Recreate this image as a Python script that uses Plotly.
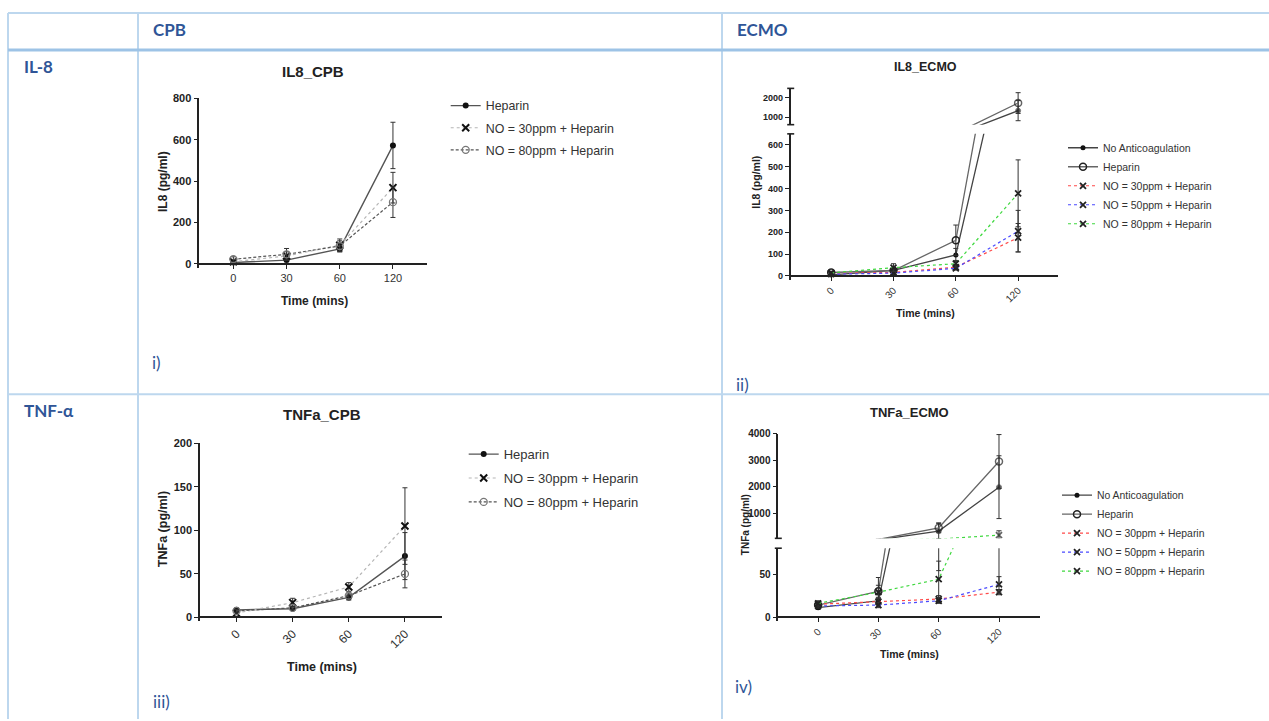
import plotly.graph_objects as go

W, H = 1269, 721

# ---------------- data ----------------
time_labels = ['0', '30', '60', '120']

# IL8 - CPB (pg/ml)
il8_cpb_heparin = [6, 18, 72, 572]
il8_cpb_heparin_err = [4, 8, 15, 112]
il8_cpb_no30 = [10, 38, 90, 368]
il8_cpb_no30_err = [8, 20, 30, 74]
il8_cpb_no80 = [22, 46, 86, 298]
il8_cpb_no80_err = [12, 28, 25, 74]

# IL8 - ECMO (pg/ml)
il8_ecmo_noac = [5, 26, 96, 1330]
il8_ecmo_noac_err = [3, 8, 30, 517]
il8_ecmo_heparin = [16, 25, 163, 1720]
il8_ecmo_heparin_err = [6, 15, 70, 534]
il8_ecmo_no30 = [12, 16, 40, 175]
il8_ecmo_no30_err = [4, 6, 10, 65]
il8_ecmo_no50 = [8, 13, 35, 205]
il8_ecmo_no50_err = [3, 5, 8, 95]
il8_ecmo_no80 = [14, 38, 56, 378]
il8_ecmo_no80_err = [5, 18, 15, 153]

# TNFa - CPB (pg/ml)
tnf_cpb_heparin = [8.7, 10, 23, 70.5]
tnf_cpb_heparin_err = [1.5, 2, 3, 27]
tnf_cpb_no30 = [5, 17, 35, 105]
tnf_cpb_no30_err = [2, 5, 5, 44]
tnf_cpb_no80 = [7.5, 11, 25, 50]
tnf_cpb_no80_err = [1.5, 2, 3, 16]

# TNFa - ECMO (pg/ml)
tnf_ecmo_noac = [11, 19, 344, 1990]
tnf_ecmo_noac_err = [2, 4, 290, 1176]
tnf_ecmo_heparin = [14, 30, 468, 2950]
tnf_ecmo_heparin_err = [3, 16, 185, 1010]
tnf_ecmo_no30 = [15, 18, 21, 29]
tnf_ecmo_no30_err = [3, 4, 4, 3]
tnf_ecmo_no50 = [13, 14, 19, 38]
tnf_ecmo_no50_err = [2, 3, 3, 9]
tnf_ecmo_no80 = [16, 29, 44, 196]
tnf_ecmo_no80_err = [3, 8, 21, 160]

# ---------------- helpers ----------------
def px(x):
    return x / W


def py(y):
    return 1 - y / H


FONT = 'Liberation Sans'
TXT = '#222222'
BLUE = '#2f5597'

axis_common = dict(showgrid=False, zeroline=False, showline=True, linecolor='#222222',
                   linewidth=1.6, ticks='outside', ticklen=4, tickwidth=1.4,
                   tickcolor='#222222')

yranges = {}


def lower_yaxis(name, top_px, zero_px, top_val, xname, tickvals, fsize, eps_px=4):
    upp = top_val / (zero_px - top_px)
    rng = [-eps_px * upp, top_val]
    yranges[name] = rng
    d = dict(axis_common)
    d.update(domain=[py(zero_px + eps_px), py(top_px)], range=rng,
             anchor=xname, tickvals=tickvals,
             tickfont=dict(family=FONT, size=fsize, color=TXT, weight='bold'))
    return d


def upper_yaxis(name, top_px, bottom_px, lo, hi, xname, tickvals, fsize):
    yranges[name] = [lo, hi]
    d = dict(axis_common)
    d.update(domain=[py(bottom_px), py(top_px)], range=[lo, hi], anchor=xname,
             tickvals=tickvals,
             tickfont=dict(family=FONT, size=fsize, color=TXT, weight='bold'))
    return d


def x_axis(l_px, r_px, rng, zero_px, fsize, angle):
    d = dict(axis_common)
    d.update(type='category', categoryorder='array', categoryarray=time_labels,
             domain=[px(l_px), px(r_px)], range=rng, anchor='free', position=py(zero_px),
             tickangle=angle, tickfont=dict(family=FONT, size=fsize, color='#333333'))
    return d


layout_axes = dict(
    xaxis=x_axis(199.3, 427, [-0.64, 3.64], 260.7, 11, 0),
    yaxis=lower_yaxis('y', 93.3, 260.7, 800, 'x', [0, 200, 400, 600, 800], 11),
    xaxis2=x_axis(790.7, 1058, [-0.65, 3.64], 273, 10, -45),
    yaxis2=lower_yaxis('y2', 129.3, 273, 650, 'x2', [0, 100, 200, 300, 400, 500, 600], 9),
    yaxis3=upper_yaxis('y3', 83.3, 120, 610, 2475, 'x2', [1000, 2000], 9),
    xaxis3=x_axis(200, 442, [-0.65, 3.66], 618.3, 12, -45),
    yaxis4=lower_yaxis('y4', 442.3, 618.3, 200, 'x3', [0, 50, 100, 150, 200], 11),
    xaxis4=x_axis(778.3, 1040, [-0.66, 3.68], 618, 10, -45),
    yaxis5=lower_yaxis('y5', 548.3, 618, 80, 'x4', [0, 50], 10),
    yaxis6=upper_yaxis('y6', 432.3, 538.3, 74, 4000, 'x4', [1000, 2000, 3000, 4000], 10),
)

fig = go.Figure()


def add_series(xname, ynames, name, y, err, line, marker, legend, group):
    for i, yn in enumerate(ynames):
        mk = dict(marker)
        if i > 0:
            # upper segment of a broken axis: hide markers that sit below its range
            lo = yranges[yn][0]
            mk['size'] = [marker['size'] if v >= lo else 0 for v in y]
        fig.add_trace(go.Scatter(
            x=time_labels, y=y, name=name, mode='lines+markers',
            xaxis=xname, yaxis=yn, line=line, marker=mk,
            error_y=dict(type='data', array=err, visible=True, color='#333333',
                         thickness=1, width=2.5),
            showlegend=(i == 0), legend=legend, legendgroup=group,
        ))


# CPB styles
cpb_hep_line = dict(color='#555555', width=1.4)
cpb_hep_marker = dict(symbol='circle', size=6, color='#111111')
cpb_no30_line = dict(color='#b5b5b5', width=1.2, dash='dot')
cpb_no30_marker = dict(symbol='x-thin', size=7, color='#111111', line=dict(width=2, color='#111111'))
cpb_no80_line = dict(color='#555555', width=1.2, dash='3px,2px')
cpb_no80_marker = dict(symbol='circle-open', size=7, color='#777777', line=dict(width=1.3, color='#777777'))

# ECMO styles
e_noac_line = dict(color='#444444', width=1.3)
e_noac_marker = dict(symbol='circle', size=5, color='#111111')
e_hep_line = dict(color='#666666', width=1.3)
e_hep_marker = dict(symbol='circle-open', size=7, color='#222222', line=dict(width=1.5, color='#222222'))
e_no30_line = dict(color='#ff4a4a', width=1.2, dash='dot')
e_no50_line = dict(color='#4a4aff', width=1.2, dash='dot')
e_no80_line = dict(color='#3fd83f', width=1.2, dash='dot')
e_x_marker = dict(symbol='x-thin', size=6, color='#222222', line=dict(width=1.8, color='#222222'))

# ---------- Panel 1: IL8_CPB ----------
add_series('x', ['y'], 'Heparin', il8_cpb_heparin, il8_cpb_heparin_err, cpb_hep_line, cpb_hep_marker, 'legend', 'a1')
add_series('x', ['y'], 'NO = 30ppm + Heparin', il8_cpb_no30, il8_cpb_no30_err, cpb_no30_line, cpb_no30_marker, 'legend', 'a2')
add_series('x', ['y'], 'NO = 80ppm + Heparin', il8_cpb_no80, il8_cpb_no80_err, cpb_no80_line, cpb_no80_marker, 'legend', 'a3')

# ---------- Panel 2: IL8_ECMO ----------
add_series('x2', ['y2', 'y3'], 'No Anticoagulation', il8_ecmo_noac, il8_ecmo_noac_err, e_noac_line, e_noac_marker, 'legend2', 'b1')
add_series('x2', ['y2', 'y3'], 'Heparin', il8_ecmo_heparin, il8_ecmo_heparin_err, e_hep_line, e_hep_marker, 'legend2', 'b2')
add_series('x2', ['y2', 'y3'], 'NO = 30ppm + Heparin', il8_ecmo_no30, il8_ecmo_no30_err, e_no30_line, e_x_marker, 'legend2', 'b3')
add_series('x2', ['y2', 'y3'], 'NO = 50ppm + Heparin', il8_ecmo_no50, il8_ecmo_no50_err, e_no50_line, e_x_marker, 'legend2', 'b4')
add_series('x2', ['y2', 'y3'], 'NO = 80ppm + Heparin', il8_ecmo_no80, il8_ecmo_no80_err, e_no80_line, e_x_marker, 'legend2', 'b5')

# ---------- Panel 3: TNFa_CPB ----------
add_series('x3', ['y4'], 'Heparin', tnf_cpb_heparin, tnf_cpb_heparin_err, cpb_hep_line, cpb_hep_marker, 'legend3', 'c1')
add_series('x3', ['y4'], 'NO = 30ppm + Heparin', tnf_cpb_no30, tnf_cpb_no30_err, cpb_no30_line, cpb_no30_marker, 'legend3', 'c2')
add_series('x3', ['y4'], 'NO = 80ppm + Heparin', tnf_cpb_no80, tnf_cpb_no80_err, cpb_no80_line, cpb_no80_marker, 'legend3', 'c3')

# ---------- Panel 4: TNFa_ECMO ----------
add_series('x4', ['y5', 'y6'], 'No Anticoagulation', tnf_ecmo_noac, tnf_ecmo_noac_err, e_noac_line, e_noac_marker, 'legend4', 'd1')
add_series('x4', ['y5', 'y6'], 'Heparin', tnf_ecmo_heparin, tnf_ecmo_heparin_err, e_hep_line, e_hep_marker, 'legend4', 'd2')
add_series('x4', ['y5', 'y6'], 'NO = 30ppm + Heparin', tnf_ecmo_no30, tnf_ecmo_no30_err, e_no30_line, e_x_marker, 'legend4', 'd3')
add_series('x4', ['y5', 'y6'], 'NO = 50ppm + Heparin', tnf_ecmo_no50, tnf_ecmo_no50_err, e_no50_line, e_x_marker, 'legend4', 'd4')
add_series('x4', ['y5', 'y6'], 'NO = 80ppm + Heparin', tnf_ecmo_no80, tnf_ecmo_no80_err, e_no80_line, e_x_marker, 'legend4', 'd5')


def legend_cfg(text_x, row1_y, fsize, gap, top_off):
    return dict(x=px(text_x - 42), y=py(row1_y - top_off), xanchor='left', yanchor='top',
                bgcolor='rgba(0,0,0,0)', tracegroupgap=gap, itemclick=False,
                itemdoubleclick=False,
                font=dict(family=FONT, size=fsize, color='#333333'))


fig.update_layout(
    width=W, height=H, margin=dict(l=0, r=0, t=0, b=0),
    paper_bgcolor='white', plot_bgcolor='rgba(0,0,0,0)',
    font=dict(family=FONT, color=TXT),
    legend=legend_cfg(487.7, 105, 12.4, 3, 19),
    legend2=legend_cfg(1105, 147.7, 10.5, 0, 19),
    legend3=legend_cfg(505.7, 454, 13, 4, 16),
    legend4=legend_cfg(1099, 495, 10.4, 0, 15),
    **layout_axes,
)

# ---------------- text ----------------
ann = []


def text(x, y, s, size, bold=True, color=TXT, xanchor='center', angle=0, family=FONT):
    ann.append(dict(x=px(x), y=py(y), xref='paper', yref='paper', text=s, showarrow=False,
                    xanchor=xanchor, yanchor='middle', textangle=angle,
                    font=dict(family=family, size=size, color=color,
                              weight='bold' if bold else 'normal')))


# chart titles
text(312.7, 66, 'IL8_CPB', 15)
text(925, 61.7, 'IL8_ECMO', 12.5)
text(322.3, 413.3, 'TNFa_CPB', 15)
text(909, 410.7, 'TNFa_ECMO', 13)
# axis titles
text(314, 298, 'Time (mins)', 12)
text(163, 178, 'IL8 (pg/ml)', 12, angle=-90)
text(925, 310, 'Time (mins)', 10.5)
text(755.7, 178, 'IL8 (pg/ml)', 10.5, angle=-90)
text(322, 668, 'Time (mins)', 12.5)
text(163, 529, 'TNFa (pg/ml)', 12.5, angle=-90)
text(909, 655, 'Time (mins)', 10.5)
text(745, 525, 'TNFa (pg/ml)', 10, angle=-90)

# table labels
TF = 'Lato'
text(151, 24, 'CPB', 17, color=BLUE, xanchor='left', family=TF)
text(735, 24, 'ECMO', 17, color=BLUE, xanchor='left', family=TF)
text(22, 61, 'IL-8', 17, color=BLUE, xanchor='left', family=TF)
text(22, 409, 'TNF-α', 17, color=BLUE, xanchor='left', family=TF)
text(150, 360, 'i)', 17, bold=False, color=BLUE, xanchor='left', family=TF)
text(734, 383, 'ii)', 17, bold=False, color=BLUE, xanchor='left', family=TF)
text(151, 703, 'iii)', 17, bold=False, color=BLUE, xanchor='left', family=TF)
text(733, 688, 'iv)', 17, bold=False, color=BLUE, xanchor='left', family=TF)

# ---------------- table lines & axis-break caps ----------------
shapes = []
LC = '#bdd7ee'


def seg(x0, y0, x1, y1, color, width, layer='below'):
    shapes.append(dict(type='line', xref='paper', yref='paper', x0=px(x0), y0=py(y0),
                       x1=px(x1), y1=py(y1), line=dict(color=color, width=width), layer=layer))


seg(8, 7, W, 7, LC, 2)
seg(8, 7, 8, H, LC, 2)
seg(138, 7, 138, H, LC, 2)
seg(722, 7, 722, H, LC, 2)
seg(8, 392.5, W, 392.5, LC, 2)
seg(8, 44.5, W, 44.5, '#9dc3e6', 3)

# broken-axis end caps
for (ax_x, ys) in [(790.7, [83.3, 120, 129.3]), (778.3, [538.3, 548.3])]:
    for yy in ys:
        seg(ax_x - 3.5, yy, ax_x + 3.5, yy, '#222222', 1.6, layer='above')

fig.update_layout(annotations=ann, shapes=shapes)

fig.write_html('out.html', config={'displayModeBar': False},
               post_script="document.body.style.margin='0';document.body.style.overflow='hidden';")
